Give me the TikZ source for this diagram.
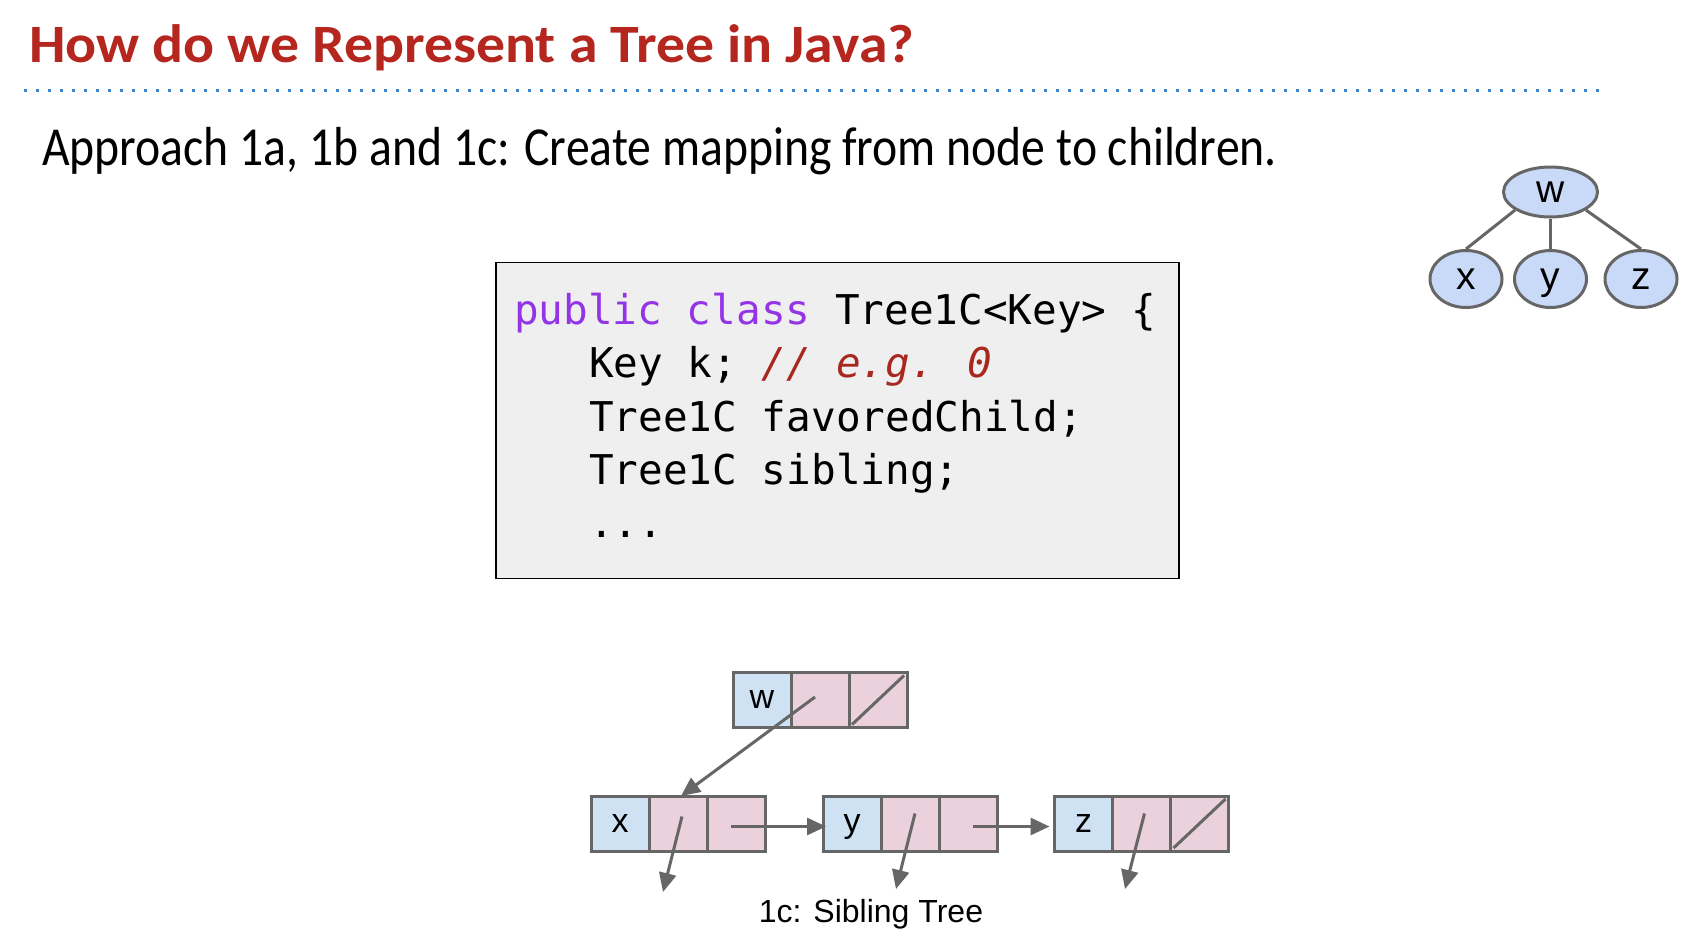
\documentclass[tikz,border=0pt]{standalone}
\usepackage{fontspec}
\setmainfont{Carlito}
\newfontfamily\titlefont[FakeStretch=1.07]{Carlito}
\newfontfamily\subfont[FakeStretch=0.867]{Carlito}
\newfontfamily\arialfont{Liberation Sans}
\newfontfamily\codefont{DejaVu Sans Mono}
\usetikzlibrary{arrows.meta,shapes.geometric,calc,positioning}
\definecolor{titlered}{RGB}{180,38,30}
\definecolor{dotblue}{RGB}{61,133,198}
\definecolor{kwpurple}{RGB}{147,52,230}
\definecolor{cmtred}{RGB}{168,40,32}
\definecolor{codebg}{RGB}{239,239,239}
\definecolor{edgegray}{RGB}{102,102,102}
\definecolor{keyblue}{RGB}{207,226,243}
\definecolor{ptrpink}{RGB}{234,209,220}
\definecolor{treeblue}{RGB}{201,218,248}
\tikzset{
  titletext/.style={anchor=base west,inner sep=0pt,text=titlered,font=\titlefont\bfseries\fontsize{54pt}{60pt}\selectfont},
  subtext/.style={anchor=base west,inner sep=0pt,font=\subfont\fontsize{55pt}{60pt}\selectfont},
  dotline/.style={dotblue,line width=3pt,dash pattern=on 3pt off 9pt},
  codebox/.style={draw=black,fill=codebg,line width=1.5pt,inner sep=0pt},
  codeline/.style={anchor=base west,inner sep=0pt,font=\codefont\fontsize{41pt}{50pt}\selectfont},
  tnode/.style={ellipse,draw=edgegray,fill=treeblue,line width=3pt,inner sep=0pt,text height=20pt,text depth=0pt,font=\arialfont\fontsize{39pt}{40pt}\selectfont},
  tedge/.style={edgegray,line width=3pt},
  cellbase/.style={draw=edgegray,line width=3pt,minimum width=58pt,minimum height=55pt,inner sep=0pt,outer sep=0pt,text height=17.5pt,text depth=0pt,font=\arialfont\fontsize{34pt}{40pt}\selectfont},
  keycell/.style={cellbase,fill=keyblue},
  ptrcell/.style={cellbase,fill=ptrpink},
  ptr/.style={edgegray,line width=3pt,-{Triangle[length=19pt,width=17pt]}},
  nullslash/.style={edgegray,line width=3pt},
  caption/.style={inner sep=0pt,anchor=base,font=\arialfont\fontsize{32pt}{38pt}\selectfont}
}
\begin{document}
\begin{tikzpicture}[x=1pt,y=-1pt]
\useasboundingbox (0,0) rectangle (1694,940);
\fill[white] (0,0) rectangle (1694,940);

% title and rule
\node[titletext] (title) at (29,62) {How do we Represent a Tree in Java?};
\coordinate (ruleL) at (24,90);
\coordinate (ruleR) at (1603,90);
\draw[dotline] (ruleL) -- (ruleR);
\node[subtext] (sub) at (42,165) {Approach 1a, 1b and 1c: Create mapping from node to children.};

% code box
\node[codebox,minimum width=683pt,minimum height=316pt] (box) at (837.5,420.5) {};
\node[codeline] (c1) at (514,324) {\textcolor{kwpurple}{public class} Tree1C<Key> \{};
\node[codeline] (c2) at (589,377) {Key k; \textcolor{cmtred}{\itshape // e.g. 0}};
\node[codeline] (c3) at (589,431) {Tree1C favoredChild;};
\node[codeline] (c4) at (589,484) {Tree1C sibling;};
\node[codeline] (c5) at (589,537) {...};

% small tree
\node[tnode,minimum width=94pt,minimum height=50pt] (tw) at (1550.5,192) {w};
\node[tnode,minimum width=72pt,minimum height=57pt] (tx) at (1466,279) {x};
\node[tnode,minimum width=72pt,minimum height=57pt] (ty) at (1550.5,279) {y};
\node[tnode,minimum width=72pt,minimum height=57pt] (tz) at (1641,279) {z};
\draw[tedge] (tw.-153) -- (tx.north);
\draw[tedge] (tw.south) -- (ty.north);
\draw[tedge] (tw.-27) -- (tz.north);

% sibling tree records
\node[keycell] (w0) at (762,700) {w};
\node[ptrcell,right=0pt of w0] (w1) {};
\node[ptrcell,right=0pt of w1] (w2) {};

\node[keycell] (x0) at (620,823.5) {x};
\node[ptrcell,right=0pt of x0] (x1) {};
\node[ptrcell,right=0pt of x1] (x2) {};

\node[keycell] (y0) at (852,823.5) {y};
\node[ptrcell,right=0pt of y0] (y1) {};
\node[ptrcell,right=0pt of y1] (y2) {};

\node[keycell] (z0) at (1083.5,823.5) {z};
\node[ptrcell,right=0pt of z0] (z1) {};
\node[ptrcell,right=0pt of z1] (z2) {};

% null slashes
\draw[nullslash] ($(w2.south west)+(3,-3)$) -- ($(w2.north east)+(-3,3)$);
\draw[nullslash] ($(z2.south west)+(3,-3)$) -- ($(z2.north east)+(-3,3)$);

% pointers
\coordinate (xnull) at (663,892);
\coordinate (ynull) at (896,889);
\coordinate (znull) at (1125,889);
\draw[ptr] ($(w1.center)+(-5,-3)$) -- ($(x1.north)+(3,0)$);
\draw[ptr] ($(x1.center)+(4,-7)$) -- (xnull);
\draw[ptr] ($(y1.center)+(5,-10)$) -- (ynull);
\draw[ptr] ($(z1.center)+(3,-10)$) -- (znull);
\draw[ptr] ($(x2.center)+(-5,3)$) -- ($(y0.west)+(3,3)$);
\draw[ptr] ($(y2.center)+(5,3)$) -- ($(z0.west)+(-5,3)$);

\node[caption] (cap) at (871,922) {1c: Sibling Tree};
\end{tikzpicture}
\end{document}
